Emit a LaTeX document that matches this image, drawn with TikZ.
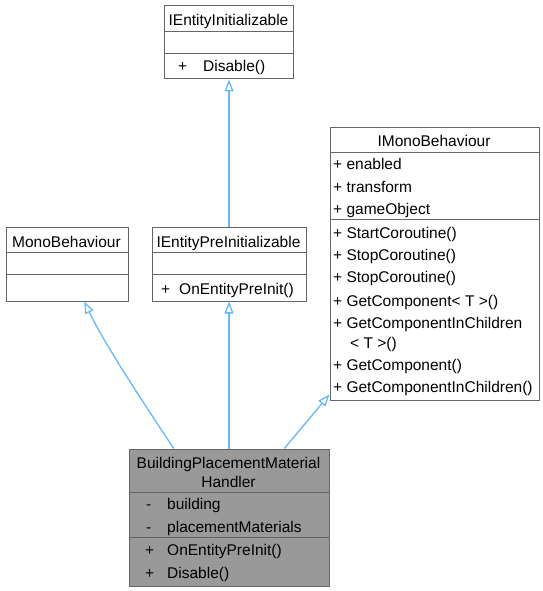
\documentclass[tikz,border=0pt]{standalone}
\usepackage{fontspec}
\setmainfont{Liberation Sans}
\usetikzlibrary{arrows.meta,calc}
\definecolor{edgeblue}{HTML}{63B8FF}
\definecolor{boxline}{HTML}{666666}
\definecolor{focusfill}{HTML}{999999}
\begin{document}
\begin{tikzpicture}[x=1bp,y=-1bp,
  font=\fontsize{15.5bp}{18bp}\selectfont,
  classbox/.style={draw=boxline, line width=1bp, fill=white, inner sep=0pt, anchor=north west},
  focusbox/.style={classbox, fill=focusfill},
  divider/.style={draw=boxline, line width=1bp},
  lbl/.style={anchor=base west, inner sep=0pt},
  ttl/.style={anchor=base, inner sep=0pt},
  inherit/.style={draw=edgeblue, line width=1.3bp, -{Triangle[open, length=12bp, width=9bp]}}]
\useasboundingbox (0,0) rectangle (543,591);

% IEntityInitializable
\node[classbox, minimum width=129bp, minimum height=73bp] (ei) at (164,5.5) {};
\draw[divider] (ei.west |- 0,31.5) -- (ei.east |- 0,31.5);
\draw[divider] (ei.west |- 0,53.5) -- (ei.east |- 0,53.5);
\node[ttl] (eit) at (228.5,26) {IEntityInitializable};
\node[lbl] (eip) at (178,71.5) {+};
\node[lbl] (eim) at (203,71.5) {Disable()};

% MonoBehaviour
\node[classbox, minimum width=122bp, minimum height=74bp] (mb) at (5.5,226.5) {};
\draw[divider] (mb.west |- 0,252.5) -- (mb.east |- 0,252.5);
\draw[divider] (mb.west |- 0,274.5) -- (mb.east |- 0,274.5);
\node[ttl] (mbt) at (66.5,247) {MonoBehaviour};

% IEntityPreInitializable
\node[classbox, minimum width=154bp, minimum height=74bp] (epi) at (151.5,226.5) {};
\draw[divider] (epi.west |- 0,252.5) -- (epi.east |- 0,252.5);
\draw[divider] (epi.west |- 0,274.5) -- (epi.east |- 0,274.5);
\node[ttl] (epit) at (228.5,247) {IEntityPreInitializable};
\node[lbl] (epip) at (161,294) {+};
\node[lbl] (epim) at (179,294) {OnEntityPreInit()};

% IMonoBehaviour
\node[classbox, minimum width=209bp, minimum height=272bp] (imb) at (329.5,127.5) {};
\draw[divider] (imb.west |- 0,152.5) -- (imb.east |- 0,152.5);
\draw[divider] (imb.west |- 0,219.5) -- (imb.east |- 0,219.5);
\node[ttl] (imbt) at (434,146.5) {IMonoBehaviour};
\node[lbl] (imb1) at (333,169.5) {+ enabled};
\node[lbl] (imb2) at (333,192) {+ transform};
\node[lbl] (imb3) at (333,214.5) {+ gameObject};
\node[lbl] (imb4) at (333,238) {+ StartCoroutine()};
\node[lbl] (imb5) at (333,260) {+ StopCoroutine()};
\node[lbl] (imb6) at (333,282.5) {+ StopCoroutine()};
\node[lbl] (imb7) at (333,306) {+ GetComponent< T >()};
\node[lbl] (imb8) at (333,328.5) {+ GetComponentInChildren};
\node[lbl] (imb8b) at (350,348) {< T >()};
\node[lbl] (imb9) at (333,370) {+ GetComponent()};
\node[lbl] (imb10) at (333,392) {+ GetComponentInChildren()};

% BuildingPlacementMaterialHandler
\node[focusbox, minimum width=200bp, minimum height=137bp] (bpmh) at (128.5,448.5) {};
\draw[divider] (bpmh.west |- 0,492.5) -- (bpmh.east |- 0,492.5);
\draw[divider] (bpmh.west |- 0,537.5) -- (bpmh.east |- 0,537.5);
\node[ttl] (bt1) at (228.5,468.5) {BuildingPlacementMaterial};
\node[ttl] (bt2) at (228.5,487) {Handler};
\node[lbl] (ba1s) at (146,509.5) {-};
\node[lbl] (ba1) at (167,509.5) {building};
\node[lbl] (ba2s) at (146,532) {-};
\node[lbl] (ba2) at (167,532) {placementMaterials};
\node[lbl] (bm1s) at (145,555) {+};
\node[lbl] (bm1) at (167,555) {OnEntityPreInit()};
\node[lbl] (bm2s) at (145,578) {+};
\node[lbl] (bm2) at (167,578) {Disable()};

% inheritance
\draw[inherit] (epi.north) -- (epi.north |- ei.south);
\draw[inherit] (bpmh.north -| epi.south) -- (epi.south);
\draw[inherit] ($(bpmh.north west)!0.225!(bpmh.north east)$)
  .. controls (145,405) and (105,345) .. ($(mb.south west)!0.64!(mb.south east)$);
\draw[inherit] ($(bpmh.north west)!0.775!(bpmh.north east)$) -- ($(imb.south west)+(0,-6)$);
\end{tikzpicture}
\end{document}
